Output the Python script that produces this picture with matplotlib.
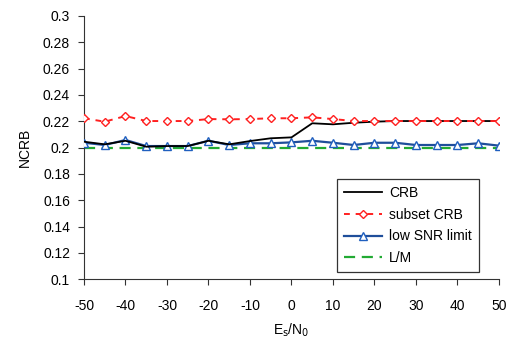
import matplotlib.pyplot as plt
import numpy as np

plt.rcParams['font.family'] = ['Liberation Sans', 'DejaVu Sans']
plt.rcParams['axes.unicode_minus'] = False

snr = np.arange(-50, 55, 5)

crb = [0.2045, 0.2025, 0.2052, 0.2007, 0.2012, 0.2012, 0.2052, 0.2025, 0.2050,
       0.2071, 0.2078, 0.2185, 0.2177, 0.2189, 0.2197, 0.2202, 0.2202, 0.2202,
       0.2202, 0.2202, 0.2202]
subset_crb = [0.2223, 0.2197, 0.2240, 0.2202, 0.2202, 0.2202, 0.2217, 0.2215,
              0.2217, 0.2223, 0.2223, 0.2230, 0.2217, 0.2202, 0.2202, 0.2202,
              0.2202, 0.2202, 0.2202, 0.2202, 0.2202]
low_snr = [0.2037, 0.2020, 0.2058, 0.2012, 0.2012, 0.2012, 0.2052, 0.2020,
           0.2033, 0.2033, 0.2040, 0.2052, 0.2037, 0.2020, 0.2037, 0.2037,
           0.2020, 0.2020, 0.2020, 0.2033, 0.2015]
lm = [0.2] * len(snr)

fig = plt.figure(figsize=(5.1, 3.39), dpi=100)
ax = fig.add_axes([0.1647, 0.176, 0.8137, 0.777])

ax.plot(snr, lm, color='#22aa33', lw=1.6, ls=(0, (5, 3)), label='L/M', zorder=2)
ax.plot(snr, low_snr, color='#1f4e9a', lw=1.6, marker='^', ms=6,
        mfc='white', mec='#1f5fbf', mew=1.0, label='low SNR limit', zorder=3)
ax.plot(snr, crb, color='black', lw=1.3, label='CRB', zorder=4)
ax.plot(snr, subset_crb, color='#ff2020', lw=1.4, ls=(0, (3, 3)), marker='D', ms=4.5,
        mfc='white', mec='#ff2020', mew=1.0, label='subset CRB', zorder=5)

ax.set_xlim(-50, 50)
ax.set_ylim(0.1, 0.3)
ax.set_xticks(np.arange(-50, 51, 10))
ax.set_yticks(np.arange(0.1, 0.301, 0.02))
ax.set_yticklabels(['0.1', '0.12', '0.14', '0.16', '0.18', '0.2', '0.22',
                    '0.24', '0.26', '0.28', '0.3'])
ax.spines['top'].set_visible(False)
ax.spines['right'].set_visible(False)
ax.spines['left'].set_color('#333333')
ax.spines['bottom'].set_color('#333333')
ax.tick_params(labelsize=10, length=4, color='#333333', direction='out', pad=6)
ax.tick_params(axis='x', pad=10)

ax.set_xlabel(r'E$_\mathrm{s}$/N$_\mathrm{0}$', fontsize=10, labelpad=6)
ax.set_ylabel('NCRB', fontsize=10, labelpad=8)

h, l = ax.get_legend_handles_labels()
order = [2, 3, 1, 0]
leg = ax.legend([h[i] for i in order], [l[i] for i in order], loc='lower right',
                bbox_to_anchor=(0.952, 0.028), borderaxespad=0, fontsize=10,
                frameon=True, fancybox=False, edgecolor='black', handlelength=2.8,
                labelspacing=0.55, borderpad=0.5, handletextpad=0.5)
leg.get_frame().set_linewidth(0.9)

fig.savefig('out.png', dpi=100)
